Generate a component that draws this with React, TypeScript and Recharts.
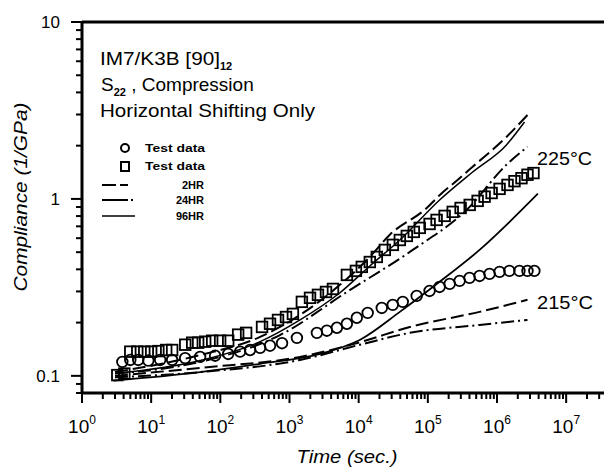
import React from 'react';
import { ComposedChart, Line, Scatter, XAxis, YAxis, ReferenceLine } from 'recharts';

// ---- Test data (215°C, circles) ----
const circleTime = [3.83, 4.99, 6.5, 9.1, 13.5, 20.1, 31, 51, 84, 130, 193, 269, 376, 523, 780, 1280, 2490, 3470, 4840, 6750, 9400, 13500, 21600, 31100, 43400, 69000, 106000, 148000, 207000, 288000, 401000, 560000, 780000, 1090000, 1510000, 2110000, 2760000, 3470000];
const circleComp = [0.12, 0.123, 0.123, 0.122, 0.123, 0.123, 0.126, 0.128, 0.13, 0.133, 0.137, 0.14, 0.144, 0.148, 0.153, 0.164, 0.175, 0.18, 0.187, 0.197, 0.213, 0.227, 0.242, 0.252, 0.262, 0.283, 0.302, 0.318, 0.331, 0.344, 0.358, 0.367, 0.377, 0.387, 0.392, 0.392, 0.392, 0.392];

// ---- Test data (225°C, squares) ----
const squareTime = [3.24, 4.09, 4.99, 6.3, 7.95, 10, 12.7, 16.5, 20.1, 31.1, 39.2, 47.8, 60.4, 76.2, 99.4, 130, 181, 236, 401, 523, 682, 890, 1120, 1510, 1980, 2580, 3370, 4250, 6760, 9120, 11100, 14500, 18300, 23900, 31200, 39400, 49700, 62700, 76400, 106000, 134000, 175000, 229000, 298000, 403000, 525000, 662000, 836000, 1090000, 1420000, 1790000, 2260000, 2760000, 3370000];
const squareComp = [0.101, 0.103, 0.137, 0.137, 0.137, 0.137, 0.138, 0.14, 0.14, 0.15, 0.154, 0.154, 0.156, 0.158, 0.158, 0.158, 0.171, 0.175, 0.189, 0.197, 0.207, 0.215, 0.224, 0.262, 0.276, 0.287, 0.298, 0.31, 0.372, 0.392, 0.413, 0.44, 0.47, 0.515, 0.55, 0.586, 0.618, 0.651, 0.686, 0.722, 0.761, 0.802, 0.845, 0.889, 0.925, 0.975, 1.03, 1.08, 1.14, 1.2, 1.26, 1.31, 1.37, 1.4];

// ---- Model curves, 225°C ----
const hot2Time = [3, 51, 376, 1420, 5360, 14500, 28200, 96400, 148000, 269000, 445000, 1370000, 2760000];
const hot2Comp = [0.105, 0.131, 0.166, 0.221, 0.327, 0.47, 0.627, 0.889, 1.05, 1.28, 1.52, 2.24, 2.98];
const hot24Time = [3, 51, 729, 6760, 60500, 364000, 1370000, 2760000];
const hot24Comp = [0.103, 0.12, 0.17, 0.298, 0.515, 0.867, 1.56, 1.97];
const hot96Time = [3, 51, 376, 1420, 5360, 14500, 39400, 148000, 445000, 1370000, 2500000];
const hot96Comp = [0.103, 0.122, 0.156, 0.207, 0.295, 0.418, 0.586, 0.987, 1.42, 2.02, 2.72];

// ---- Model curves, 215°C ----
const cool2Time = [3, 51, 1420, 10500, 55000, 560000, 2760000];
const cool2Comp = [0.1, 0.111, 0.128, 0.155, 0.189, 0.23, 0.269];
const cool24Time = [3, 51, 1420, 10500, 55000, 560000, 2760000];
const cool24Comp = [0.098, 0.105, 0.123, 0.15, 0.175, 0.194, 0.207];
const cool96Time = [2.85, 51, 376, 2760, 10500, 39400, 148000, 560000, 3900000];
const cool96Comp = [0.094, 0.105, 0.117, 0.133, 0.16, 0.23, 0.34, 0.515, 1.07];

// ---- Axes ----
const xDecades = [1, 10, 100, 1000, 10000, 100000, 1000000, 10000000];
const xTickExps = ['0', '1', '2', '3', '4', '5', '6', '7'];
const yDecades = [0.01, 0.1, 1, 10];
const yTickLabels = ['0.01', '0.1', '1', '10'];
const minorMultipliers = [2, 3, 4, 5, 6, 7, 8, 9];
const X_MIN = 1;
const X_MAX = 46000000;
const Y_MIN = 0.08;
const Y_MAX = 10;

const legendLabels = ['Test data', 'Test data', '2HR', '24HR', '96HR'];

const zip = (ts: number[], cs: number[]) => ts.map((t, i) => ({ t, c: cs[i] }));

const circles = zip(circleTime, circleComp);
const squares = zip(squareTime, squareComp);
const hot2 = zip(hot2Time, hot2Comp);
const hot24 = zip(hot24Time, hot24Comp);
const hot96 = zip(hot96Time, hot96Comp);
const cool2 = zip(cool2Time, cool2Comp);
const cool24 = zip(cool24Time, cool24Comp);
const cool96 = zip(cool96Time, cool96Comp);

const xTicks = xDecades
  .flatMap((d) => [d, ...minorMultipliers.map((m) => m * d)])
  .filter((v) => v >= X_MIN && v <= X_MAX);
const yTicks = yDecades
  .flatMap((d) => [d, ...minorMultipliers.map((m) => m * d)])
  .filter((v) => v >= Y_MIN - 1e-9 && v <= Y_MAX + 1e-9);

const FONT = '"Liberation Sans", Arial, sans-serif';
const DASH2 = '13 5';
const DASH24 = '13 4 2 4';

const isMajor = (v: number) => {
  const lg = Math.log10(v);
  return Math.abs(lg - Math.round(lg)) < 1e-6;
};

const XTick = (props: any) => {
  const { x, y, payload } = props;
  const v = payload.value;
  const major = isMajor(v);
  const idx = xDecades.findIndex((d) => Math.abs(d - v) / d < 1e-6);
  return (
    <g>
      <line x1={x} x2={x} y1={y} y2={y + (major ? 10 : 6)} stroke="#000" strokeWidth={2} />
      {major && idx >= 0 && (
        <text x={x} y={y + 40} textAnchor="middle" fontSize={19} fontFamily={FONT} fill="#000">
          10
          <tspan dy={-9} fontSize={12}>
            {xTickExps[idx]}
          </tspan>
        </text>
      )}
    </g>
  );
};

const YTick = (props: any) => {
  const { x, y, payload } = props;
  const v = payload.value;
  const major = isMajor(v);
  const idx = yDecades.findIndex((d) => Math.abs(d - v) / d < 1e-6);
  return (
    <g>
      <line x1={x} x2={x - (major ? 11 : 6)} y1={y} y2={y} stroke="#000" strokeWidth={2} />
      {major && idx >= 0 && (
        <text x={x - 22} y={y + 6} textAnchor="end" fontSize={17} fontFamily={FONT} fill="#000">
          {yTickLabels[idx]}
        </text>
      )}
    </g>
  );
};

const CircleShape = (props: any) => {
  const { cx, cy } = props;
  if (cx == null || cy == null) return null;
  return <circle cx={cx} cy={cy} r={5.3} fill="none" stroke="#000" strokeWidth={1.8} />;
};
const SquareShape = (props: any) => {
  const { cx, cy } = props;
  if (cx == null || cy == null) return null;
  return <rect x={cx - 5.3} y={cy - 5.3} width={10.6} height={10.6} fill="none" stroke="#000" strokeWidth={1.8} />;
};

export default function App() {
  return (
    <div style={{ position: 'relative', width: 604, height: 462, background: '#fff' }}>
      <ComposedChart width={604} height={462} margin={{ top: 14, right: 0, bottom: 0, left: 0 }}>
        <XAxis
          dataKey="t"
          type="number"
          scale="log"
          domain={[X_MIN, X_MAX]}
          allowDataOverflow
          ticks={xTicks}
          interval={0}
          tick={<XTick />}
          tickSize={0}
          tickMargin={0}
          tickLine={false}
          axisLine={{ stroke: '#000', strokeWidth: 3 }}
          height={77}
        />
        <YAxis
          dataKey="c"
          type="number"
          scale="log"
          domain={[Y_MIN, Y_MAX]}
          allowDataOverflow
          ticks={yTicks}
          interval={0}
          tick={<YTick />}
          tickSize={0}
          tickMargin={0}
          tickLine={false}
          axisLine={{ stroke: '#000', strokeWidth: 3 }}
          width={74}
        />
        <ReferenceLine y={Y_MAX} stroke="#000" strokeWidth={3} />
        <Line data={hot2} dataKey="c" stroke="#000" strokeWidth={2} strokeDasharray={DASH2} dot={false} isAnimationActive={false} type="monotone" />
        <Line data={hot96} dataKey="c" stroke="#000" strokeWidth={1.5} dot={false} isAnimationActive={false} type="monotone" />
        <Line data={hot24} dataKey="c" stroke="#000" strokeWidth={2} strokeDasharray={DASH24} dot={false} isAnimationActive={false} type="monotone" />
        <Line data={cool2} dataKey="c" stroke="#000" strokeWidth={2} strokeDasharray={DASH2} dot={false} isAnimationActive={false} type="monotone" />
        <Line data={cool24} dataKey="c" stroke="#000" strokeWidth={2} strokeDasharray={DASH24} dot={false} isAnimationActive={false} type="monotone" />
        <Line data={cool96} dataKey="c" stroke="#000" strokeWidth={1.8} dot={false} isAnimationActive={false} type="monotone" />
        <Scatter data={squares} dataKey="c" shape={SquareShape} isAnimationActive={false} />
        <Scatter data={circles} dataKey="c" shape={CircleShape} isAnimationActive={false} />
      </ComposedChart>
      <svg width={604} height={462} style={{ position: 'absolute', left: 0, top: 0, pointerEvents: 'none' }}>
        <g transform="translate(-8,-8)" fontFamily={FONT} fill="#000">
          <text x={100} y={65} fontSize={19}>
            <tspan textLength={120} lengthAdjust="spacingAndGlyphs">IM7/K3B [90]</tspan>
            <tspan dy={5} fontSize={11} fontWeight="bold">12</tspan>
          </text>
          <text x={101} y={91} fontSize={19}>
            S<tspan dy={5} fontSize={11} fontWeight="bold">22</tspan>
            <tspan dy={-5}> , Compression</tspan>
          </text>
          <text x={100} y={117} fontSize={19} textLength={215} lengthAdjust="spacingAndGlyphs">
            Horizontal Shifting Only
          </text>

          {/* legend */}
          <circle cx={125} cy={148} r={4} fill="none" stroke="#000" strokeWidth={2} />
          <rect x={121} y={162} width={8} height={9} fill="none" stroke="#000" strokeWidth={2} />
          <line x1={102} x2={135} y1={185} y2={185} stroke="#000" strokeWidth={2} strokeDasharray="14 4 8 30" />
          <line x1={102} x2={135} y1={200} y2={200} stroke="#000" strokeWidth={2} strokeDasharray="26 3 2 30" />
          <line x1={102} x2={135} y1={216} y2={216} stroke="#000" strokeWidth={1.5} />
          <text x={145} y={152} fontSize={11} fontWeight="bold" textLength={60} lengthAdjust="spacingAndGlyphs">{legendLabels[0]}</text>
          <text x={145} y={170} fontSize={11} fontWeight="bold" textLength={60} lengthAdjust="spacingAndGlyphs">{legendLabels[1]}</text>
          <text x={204} y={189} fontSize={11} fontWeight="bold" textAnchor="end">{legendLabels[2]}</text>
          <text x={204} y={204} fontSize={11} fontWeight="bold" textAnchor="end">{legendLabels[3]}</text>
          <text x={204} y={220} fontSize={11} fontWeight="bold" textAnchor="end">{legendLabels[4]}</text>

          <text x={537} y={165} fontSize={18} textLength={55} lengthAdjust="spacingAndGlyphs">225°C</text>
          <text x={537} y={309} fontSize={18} textLength={56} lengthAdjust="spacingAndGlyphs">215°C</text>

          <text
            x={0}
            y={0}
            fontSize={18}
            fontStyle="italic"
            textAnchor="middle"
            transform="translate(27,197) rotate(-90)"
            textLength={189}
            lengthAdjust="spacingAndGlyphs"
          >
            Compliance (1/GPa)
          </text>
          <text x={347} y={463} fontSize={18} fontStyle="italic" textAnchor="middle" textLength={101} lengthAdjust="spacingAndGlyphs">
            Time (sec.)
          </text>
        </g>
      </svg>
    </div>
  );
}
